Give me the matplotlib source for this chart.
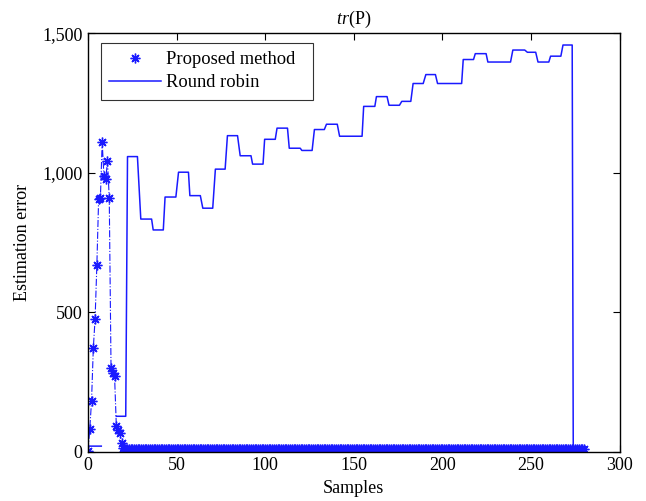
"""tr(P) estimation error: proposed method vs round robin."""

import numpy as np
import matplotlib
matplotlib.use("Agg")
import matplotlib.pyplot as plt
from matplotlib.ticker import FuncFormatter

plt.rcParams["font.family"] = ["Liberation Serif", "DejaVu Serif"]
plt.rcParams["mathtext.fontset"] = "custom"
plt.rcParams["mathtext.rm"] = "Liberation Serif"
plt.rcParams["mathtext.it"] = "Liberation Serif:italic"

BLUE = "#1a1aff"
ASTERISK = (8, 2, 0)  # matlab-style '*'

# proposed method: spike over the first samples, then flat near zero
pm_head = [4, 81, 183, 371, 476, 669, 905, 910, 1111, 988, 976, 1042, 908,
           300, 282, 270, 91, 79, 67, 31, 15]
pm_tail_level = 8
pm_last_sample = 280

# round robin: piecewise-constant levels, each held from start to end sample
rr_level = [20, 127, 1058, 834, 795, 913, 1002, 918, 873, 1013, 1133, 1061,
            1031, 1120, 1160, 1088, 1080, 1155, 1174, 1131, 1238, 1273, 1242,
            1256, 1320, 1352, 1320, 1406, 1427, 1397, 1440, 1432, 1397, 1418,
            1458, 0]
rr_start = [0, 16, 22.3, 29.8, 36.8, 43.5, 51.1, 57.5, 64.8, 71.9, 78.7, 85.9,
            92.9, 99.7, 106.7, 113.6, 120.7, 127.8, 134.6, 142, 155.6, 162.8,
            169.9, 177.1, 183.5, 190.7, 197.3, 211.8, 218.6, 225.7, 239.8, 248,
            254, 261.1, 268.1, 273.9]
rr_end = [7.5, 21.3, 27.9, 35.9, 42.5, 49.6, 56.7, 63.4, 70.4, 77.4, 84.4, 92,
          98.8, 105.7, 112.6, 119.8, 126.5, 133.4, 140.7, 154.7, 161.9, 168.8,
          175.8, 182.2, 189.2, 196.1, 210.9, 217.6, 224.7, 238.5, 246.5, 252.7,
          260.1, 266.9, 273.3, 274.5]
rr_gap_after = 0  # line is broken after the first level

x_ticks = [0, 50, 100, 150, 200, 250, 300]
y_ticks = [0, 500, 1000, 1500]

# assemble series
pm_y = np.array(pm_head + [pm_tail_level] * (pm_last_sample + 1 - len(pm_head)), float)
pm_x = np.arange(len(pm_y))

rr_x, rr_y = [], []
for i, (s, e, v) in enumerate(zip(rr_start, rr_end, rr_level)):
    rr_x += [s, e]
    rr_y += [v, v]
    if i == rr_gap_after:
        rr_x.append(np.nan)
        rr_y.append(np.nan)

fig = plt.figure(figsize=(6.46, 5.01), dpi=100)
ax = fig.add_axes([88 / 646, 49.3 / 501, 531.5 / 646, 418.4 / 501])

ax.plot(pm_x, pm_y, "-.", color=BLUE, lw=0.8)
ax.plot(pm_x, pm_y, marker=ASTERISK, ls="none", color=BLUE, ms=7, mew=1.0,
        label="Proposed method")
ax.plot(rr_x, rr_y, "-", color=BLUE, lw=1.1, label="Round robin")

ax.set_xlim(0, 300)
ax.set_ylim(0, 1500)
ax.set_xticks(x_ticks)
ax.set_yticks(y_ticks)
ax.yaxis.set_major_formatter(FuncFormatter(lambda v, _: f"{int(v):,}"))
ax.tick_params(direction="in", top=True, right=True, length=5, width=0.8,
               labelsize=13, pad=4)
for sp in ax.spines.values():
    sp.set_linewidth(1.0)

ax.set_xlabel("Samples", fontsize=13, labelpad=4)
ax.set_ylabel("Estimation error", fontsize=13, labelpad=8)
ax.set_title(r"$\mathit{tr}$(P)", fontsize=13, pad=7)

leg = ax.legend(loc="upper left", mode="expand",
                bbox_to_anchor=(12.7 / 531.5, 1 - 9.4 / 418.4, 212 / 531.5, 0),
                fontsize=13.3, frameon=True, fancybox=False, edgecolor="black",
                handlelength=2.8, borderpad=0.45, labelspacing=0.35,
                handletextpad=0.3, borderaxespad=0)
leg.get_frame().set_linewidth(0.8)

fig.savefig("out.png", dpi=100)
